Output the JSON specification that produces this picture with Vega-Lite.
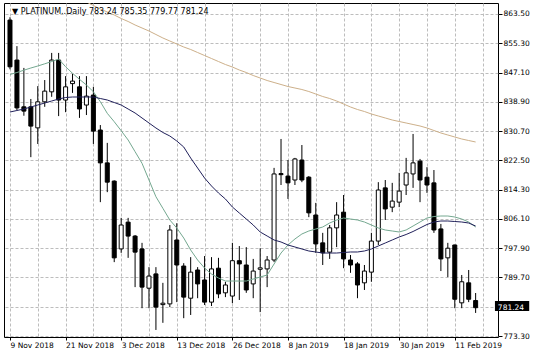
{
  "$schema": "https://vega.github.io/schema/vega-lite/v6.json",
  "width": 494,
  "height": 334,
  "autosize": {"type": "none"},
  "padding": {"left": 4, "top": 3, "right": 38, "bottom": 21},
  "background": "white",
  "config": {
    "view": {"stroke": "black", "strokeWidth": 1},
    "font": "DejaVu Sans",
    "axis": {"labelFont": "DejaVu Sans", "labelFontSize": 7.5, "labelColor": "black"}
  },
  "data": {"values": [
    {"i":0,"date":"2018-11-09","o":861.8,"h":862.6,"l":848.0,"c":848.7,"ma1":846.55,"ma2":836.05,"ma3":876.94},
    {"i":1,"date":"2018-11-12","o":850.6,"h":854.5,"l":836.6,"c":837.2,"ma1":847.11,"ma2":836.47,"ma3":875.96},
    {"i":2,"date":"2018-11-13","o":837.5,"h":848.4,"l":835.0,"c":836.3,"ma1":847.76,"ma2":836.89,"ma3":874.98},
    {"i":3,"date":"2018-11-14","o":837.5,"h":839.7,"l":823.4,"c":832.1,"ma1":848.37,"ma2":837.45,"ma3":874.14},
    {"i":4,"date":"2018-11-15","o":831.6,"h":843.3,"l":827.1,"c":838.9,"ma1":848.93,"ma2":838.01,"ma3":873.30},
    {"i":5,"date":"2018-11-16","o":838.9,"h":845.0,"l":837.5,"c":841.9,"ma1":849.55,"ma2":838.57,"ma3":872.32},
    {"i":6,"date":"2018-11-19","o":841.7,"h":852.6,"l":840.3,"c":850.6,"ma1":850.19,"ma2":839.13,"ma3":871.34},
    {"i":7,"date":"2018-11-20","o":850.6,"h":852.6,"l":834.9,"c":839.4,"ma1":850.89,"ma2":839.69,"ma3":870.50},
    {"i":8,"date":"2018-11-21","o":839.4,"h":846.1,"l":836.0,"c":843.1,"ma1":848.74,"ma2":840.11,"ma3":869.66},
    {"i":9,"date":"2018-11-22","o":844.0,"h":846.7,"l":841.4,"c":844.7,"ma1":846.89,"ma2":840.25,"ma3":868.68},
    {"i":10,"date":"2018-11-23","o":843.1,"h":846.1,"l":834.4,"c":836.9,"ma1":845.21,"ma2":840.25,"ma3":867.70},
    {"i":11,"date":"2018-11-26","o":838.0,"h":846.1,"l":835.2,"c":840.5,"ma1":843.61,"ma2":840.25,"ma3":866.86},
    {"i":12,"date":"2018-11-27","o":840.8,"h":843.1,"l":827.1,"c":830.7,"ma1":841.73,"ma2":840.25,"ma3":865.88},
    {"i":13,"date":"2018-11-28","o":831.0,"h":832.4,"l":810.8,"c":821.8,"ma1":838.93,"ma2":839.83,"ma3":864.90},
    {"i":14,"date":"2018-11-29","o":821.8,"h":827.4,"l":813.6,"c":816.4,"ma1":835.68,"ma2":839.41,"ma3":864.06},
    {"i":15,"date":"2018-11-30","o":816.7,"h":816.9,"l":794.0,"c":795.2,"ma1":833.33,"ma2":838.71,"ma3":863.22},
    {"i":16,"date":"2018-12-03","o":797.7,"h":806.4,"l":796.6,"c":804.4,"ma1":830.81,"ma2":838.01,"ma3":862.24},
    {"i":17,"date":"2018-12-04","o":805.2,"h":806.4,"l":795.2,"c":801.3,"ma1":828.21,"ma2":836.89,"ma3":861.40},
    {"i":18,"date":"2018-12-05","o":801.3,"h":801.6,"l":787.0,"c":796.8,"ma1":824.93,"ma2":835.77,"ma3":860.42},
    {"i":19,"date":"2018-12-06","o":797.7,"h":799.4,"l":781.1,"c":787.0,"ma1":821.68,"ma2":834.37,"ma3":859.58},
    {"i":20,"date":"2018-12-07","o":786.7,"h":792.6,"l":781.1,"c":790.1,"ma1":817.00,"ma2":832.97,"ma3":858.74},
    {"i":21,"date":"2018-12-10","o":790.7,"h":792.6,"l":775.0,"c":781.4,"ma1":812.32,"ma2":831.57,"ma3":857.76},
    {"i":22,"date":"2018-12-11","o":782.1,"h":788.2,"l":777.0,"c":782.5,"ma1":809.07,"ma2":830.31,"ma3":856.78},
    {"i":23,"date":"2018-12-12","o":782.3,"h":804.4,"l":781.4,"c":803.0,"ma1":805.80,"ma2":829.33,"ma3":855.94},
    {"i":24,"date":"2018-12-13","o":800.2,"h":804.9,"l":782.8,"c":793.2,"ma1":803.56,"ma2":827.93,"ma3":855.10},
    {"i":25,"date":"2018-12-14","o":792.9,"h":793.7,"l":778.3,"c":784.2,"ma1":800.76,"ma2":826.25,"ma3":854.26},
    {"i":26,"date":"2018-12-17","o":783.9,"h":795.4,"l":779.2,"c":791.2,"ma1":797.39,"ma2":823.16,"ma3":853.56},
    {"i":27,"date":"2018-12-18","o":791.8,"h":792.6,"l":783.9,"c":787.9,"ma1":794.59,"ma2":820.36,"ma3":852.71},
    {"i":28,"date":"2018-12-19","o":789.0,"h":795.7,"l":782.0,"c":782.8,"ma1":792.35,"ma2":817.56,"ma3":851.87},
    {"i":29,"date":"2018-12-20","o":782.8,"h":795.4,"l":781.7,"c":792.1,"ma1":790.67,"ma2":815.32,"ma3":851.03},
    {"i":30,"date":"2018-12-21","o":792.3,"h":795.2,"l":783.9,"c":785.1,"ma1":789.55,"ma2":813.36,"ma3":850.19},
    {"i":31,"date":"2018-12-24","o":785.4,"h":788.5,"l":784.2,"c":787.6,"ma1":788.71,"ma2":811.68,"ma3":849.35},
    {"i":32,"date":"2018-12-26","o":784.5,"h":799.4,"l":782.5,"c":794.4,"ma1":788.71,"ma2":809.44,"ma3":848.65},
    {"i":33,"date":"2018-12-27","o":794.4,"h":798.5,"l":783.4,"c":793.5,"ma1":788.71,"ma2":807.76,"ma3":847.81},
    {"i":34,"date":"2018-12-28","o":793.2,"h":798.2,"l":785.4,"c":786.2,"ma1":788.71,"ma2":806.08,"ma3":847.11},
    {"i":35,"date":"2018-12-31","o":787.9,"h":794.9,"l":783.9,"c":791.5,"ma1":789.27,"ma2":804.40,"ma3":846.27},
    {"i":36,"date":"2019-01-02","o":792.0,"h":797.9,"l":780.0,"c":792.4,"ma1":789.83,"ma2":802.44,"ma3":845.57},
    {"i":37,"date":"2019-01-03","o":792.1,"h":795.7,"l":787.0,"c":794.6,"ma1":790.39,"ma2":801.32,"ma3":844.87},
    {"i":38,"date":"2019-01-04","o":794.6,"h":820.4,"l":794.0,"c":818.7,"ma1":793.47,"ma2":800.20,"ma3":844.31},
    {"i":39,"date":"2019-01-07","o":818.8,"h":828.5,"l":815.6,"c":818.5,"ma1":796.55,"ma2":799.64,"ma3":843.75},
    {"i":40,"date":"2019-01-08","o":818.1,"h":822.6,"l":811.7,"c":816.2,"ma1":798.80,"ma2":798.80,"ma3":843.19},
    {"i":41,"date":"2019-01-09","o":817.0,"h":823.2,"l":815.6,"c":822.9,"ma1":800.48,"ma2":798.24,"ma3":842.77},
    {"i":42,"date":"2019-01-10","o":822.6,"h":826.8,"l":816.4,"c":817.0,"ma1":801.88,"ma2":797.68,"ma3":842.35},
    {"i":43,"date":"2019-01-11","o":817.8,"h":818.1,"l":806.6,"c":807.8,"ma1":802.72,"ma2":797.12,"ma3":841.79},
    {"i":44,"date":"2019-01-14","o":807.2,"h":810.6,"l":796.6,"c":799.1,"ma1":803.28,"ma2":796.84,"ma3":841.09},
    {"i":45,"date":"2019-01-15","o":799.4,"h":802.2,"l":793.2,"c":796.6,"ma1":803.84,"ma2":796.55,"ma3":840.39},
    {"i":46,"date":"2019-01-16","o":796.8,"h":804.4,"l":794.9,"c":803.6,"ma1":804.96,"ma2":796.55,"ma3":839.83},
    {"i":47,"date":"2019-01-17","o":803.6,"h":810.8,"l":798.2,"c":807.2,"ma1":805.80,"ma2":796.55,"ma3":839.13},
    {"i":48,"date":"2019-01-18","o":808.0,"h":812.8,"l":792.3,"c":794.9,"ma1":806.36,"ma2":796.70,"ma3":838.29},
    {"i":49,"date":"2019-01-21","o":794.6,"h":796.0,"l":791.0,"c":793.2,"ma1":806.08,"ma2":796.84,"ma3":837.45},
    {"i":50,"date":"2019-01-22","o":793.5,"h":794.0,"l":783.9,"c":787.6,"ma1":805.80,"ma2":796.84,"ma3":836.75},
    {"i":51,"date":"2019-01-23","o":788.2,"h":793.2,"l":786.2,"c":791.5,"ma1":805.24,"ma2":797.12,"ma3":836.19},
    {"i":52,"date":"2019-01-24","o":791.2,"h":802.2,"l":788.5,"c":799.9,"ma1":804.40,"ma2":797.68,"ma3":835.49},
    {"i":53,"date":"2019-01-25","o":799.9,"h":816.4,"l":798.8,"c":814.2,"ma1":803.56,"ma2":798.52,"ma3":834.93},
    {"i":54,"date":"2019-01-28","o":814.8,"h":817.0,"l":805.8,"c":808.9,"ma1":803.00,"ma2":799.36,"ma3":834.37},
    {"i":55,"date":"2019-01-29","o":809.4,"h":816.2,"l":808.0,"c":811.1,"ma1":802.72,"ma2":800.20,"ma3":833.81},
    {"i":56,"date":"2019-01-30","o":810.8,"h":819.0,"l":809.4,"c":813.9,"ma1":802.44,"ma2":801.04,"ma3":833.39},
    {"i":57,"date":"2019-01-31","o":815.6,"h":823.2,"l":812.8,"c":819.0,"ma1":803.00,"ma2":801.74,"ma3":832.97},
    {"i":58,"date":"2019-02-01","o":818.7,"h":829.9,"l":814.8,"c":821.8,"ma1":804.12,"ma2":802.58,"ma3":832.55},
    {"i":59,"date":"2019-02-04","o":822.3,"h":822.9,"l":810.8,"c":817.0,"ma1":805.24,"ma2":803.56,"ma3":832.13},
    {"i":60,"date":"2019-02-05","o":817.8,"h":820.6,"l":813.4,"c":815.6,"ma1":806.36,"ma2":804.54,"ma3":831.57},
    {"i":61,"date":"2019-02-06","o":816.2,"h":819.8,"l":802.2,"c":803.0,"ma1":806.78,"ma2":805.24,"ma3":830.87},
    {"i":62,"date":"2019-02-07","o":803.3,"h":804.7,"l":791.5,"c":794.9,"ma1":806.92,"ma2":805.52,"ma3":830.17},
    {"i":63,"date":"2019-02-08","o":795.2,"h":799.4,"l":789.8,"c":797.9,"ma1":806.92,"ma2":805.52,"ma3":829.61},
    {"i":64,"date":"2019-02-11","o":798.8,"h":798.9,"l":781.1,"c":783.6,"ma1":806.64,"ma2":805.38,"ma3":829.05},
    {"i":65,"date":"2019-02-12","o":782.6,"h":790.4,"l":781.1,"c":788.5,"ma1":806.08,"ma2":805.24,"ma3":828.49},
    {"i":66,"date":"2019-02-13","o":788.2,"h":791.8,"l":782.8,"c":783.6,"ma1":805.24,"ma2":804.96,"ma3":828.06},
    {"i":67,"date":"2019-02-14","o":783.24,"h":785.35,"l":779.77,"c":781.24,"ma1":803.84,"ma2":804.12,"ma3":827.65}
  ]},
  "encoding": {
    "x": {
      "field": "i", "type": "quantitative",
      "scale": {"domain": [-0.141, 69.5], "nice": false, "zero": false},
      "axis": {
        "title": null,
        "values": [0,4,8,12,16,20,24,28,32,36,40,44,48,52,56,60,64,68],
        "labelExpr": "datum.value % 8 == 0 ? ['9 Nov 2018','21 Nov 2018','3 Dec 2018','13 Dec 2018','26 Dec 2018','8 Jan 2019','18 Jan 2019','30 Jan 2019','11 Feb 2019'][datum.value / 8] : ''",
        "grid": true, "gridColor": "#bdbdbd", "gridDash": [3, 2], "gridWidth": 1,
        "domain": false,
        "ticks": true, "tickSize": 3,
        "tickColor": {"condition": {"test": "datum.value % 8 == 0", "value": "black"}, "value": "transparent"},
        "labelAlign": "left", "labelBaseline": "top", "labelPadding": 1,
        "labelOverlap": false, "labelFlush": false, "labelBound": false
      }
    },
    "y": {
      "field": "l", "type": "quantitative",
      "scale": {"domain": [773.03, 866.58], "nice": false, "zero": false},
      "axis": {
        "title": null, "orient": "right",
        "values": [773.3, 781.5, 789.7, 797.9, 806.1, 814.3, 822.5, 830.7, 838.9, 847.1, 855.3, 863.5],
        "labelExpr": "datum.value == 781.5 ? '' : format(datum.value, '.2f')",
        "grid": true, "gridColor": "#bdbdbd", "gridDash": [3, 2], "gridWidth": 1,
        "domain": false, "ticks": true, "tickSize": 4, "tickColor": "black",
        "labelPadding": 1, "labelBaseline": "middle", "labelAlign": "left",
        "labelOverlap": false, "labelFlush": false, "labelBound": false
      }
    }
  },
  "layer": [
    {
      "mark": {"type": "rule", "color": "black", "strokeWidth": 1},
      "encoding": {"y2": {"field": "h"}}
    },
    {
      "mark": {"type": "bar", "width": 4, "stroke": "black", "strokeWidth": 1},
      "encoding": {
        "y": {"field": "o", "type": "quantitative"},
        "y2": {"field": "c"},
        "fill": {"condition": {"test": "datum.c >= datum.o", "value": "white"}, "value": "black"}
      }
    },
    {
      "mark": {"type": "line", "color": "#cdb08a", "strokeWidth": 1, "clip": true},
      "encoding": {"y": {"field": "ma3", "type": "quantitative"}}
    },
    {
      "mark": {"type": "line", "color": "#74a890", "strokeWidth": 1, "clip": true},
      "encoding": {"y": {"field": "ma1", "type": "quantitative"}}
    },
    {
      "mark": {"type": "line", "color": "#20205a", "strokeWidth": 1, "clip": true},
      "encoding": {"y": {"field": "ma2", "type": "quantitative"}}
    },
    {
      "data": {"values": [{"label": "▼  PLATINUM..Daily  783.24 785.35 779.77 781.24", "pos": 0.3, "price": 863.5}]},
      "mark": {"type": "text", "font": "DejaVu Sans", "fontSize": 8, "color": "black", "align": "left", "baseline": "alphabetic"},
      "encoding": {
        "x": {"field": "pos", "type": "quantitative"},
        "y": {"field": "price", "type": "quantitative"},
        "text": {"field": "label"}
      }
    },
    {
      "data": {"values": [{"x1": 69.78, "x2": 74.71, "y1": 783.11, "y2": 780.31}]},
      "mark": {"type": "rect", "color": "black"},
      "encoding": {
        "x": {"field": "x1", "type": "quantitative"},
        "x2": {"field": "x2"},
        "y": {"field": "y1", "type": "quantitative"},
        "y2": {"field": "y2"}
      }
    },
    {
      "data": {"values": [{"price": 781.24, "pos": 70.2}]},
      "mark": {"type": "text", "font": "DejaVu Sans", "fontSize": 7.5, "color": "white", "align": "left", "baseline": "middle"},
      "encoding": {
        "x": {"field": "pos", "type": "quantitative"},
        "y": {"field": "price", "type": "quantitative"},
        "text": {"field": "price", "type": "quantitative", "format": ".2f"}
      }
    }
  ]
}
